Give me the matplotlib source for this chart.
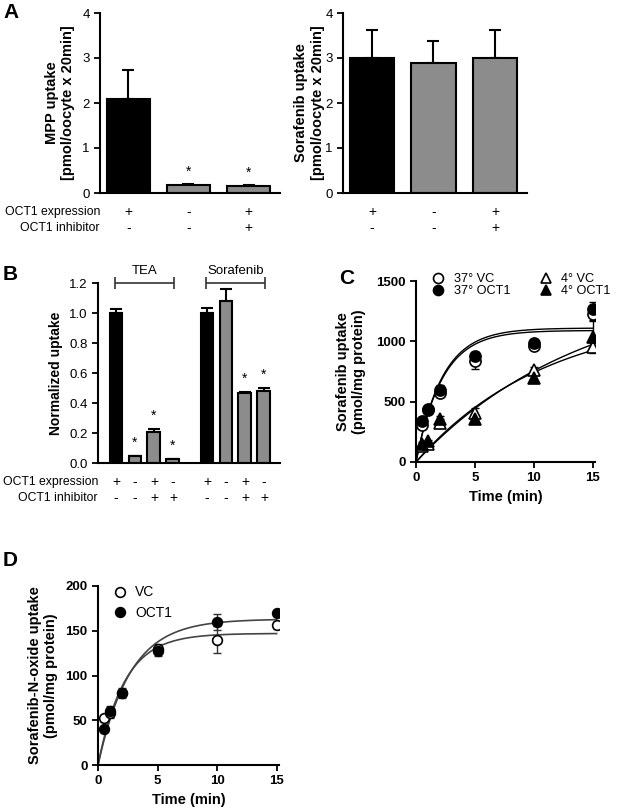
import numpy as np
import matplotlib
matplotlib.use("Agg")
import matplotlib.pyplot as plt

plt.rcParams['font.family'] = ['Liberation Sans', 'DejaVu Sans']
plt.rcParams['axes.linewidth'] = 1.5
plt.rcParams['xtick.major.width'] = 1.3
plt.rcParams['ytick.major.width'] = 1.3
plt.rcParams['xtick.major.size'] = 4
plt.rcParams['ytick.major.size'] = 4

# ---- panel A data ----
a_expr = ['+', '-', '+']
a_inhib = ['-', '-', '+']
a_colors = ['black', '#8c8c8c', '#8c8c8c']
mpp_mean = [2.1, 0.17, 0.15]
mpp_err = [0.63, 0.03, 0.03]
mpp_star = [False, True, True]
sora_mean = [3.0, 2.9, 3.0]
sora_err = [0.63, 0.47, 0.63]

# ---- panel B data ----
b_expr = ['+', '-', '+', '-', '+', '-', '+', '-']
b_inhib = ['-', '-', '+', '+', '-', '-', '+', '+']
b_colors = ['black', '#8c8c8c', '#8c8c8c', '#8c8c8c'] * 2
b_pos = [0, 1, 2, 3, 4.8, 5.8, 6.8, 7.8]
b_mean = [1.0, 0.045, 0.205, 0.025, 1.0, 1.08, 0.465, 0.48]
b_err = [0.03, 0.005, 0.02, 0.005, 0.035, 0.08, 0.01, 0.022]
b_star = [False, True, True, True, False, False, True, True]
b_groups = ['TEA', 'Sorafenib']

# ---- panel C data ----
c_time = [0.5, 1, 2, 5, 10, 15]
c_vc37 = [310, 430, 570, 840, 965, 1230]
c_vc37_err = [20, 20, 30, 70, 30, 60]
c_oct37 = [340, 440, 600, 880, 990, 1270]
c_oct37_err = [20, 20, 40, 30, 30, 60]
c_vc4 = [130, 150, 320, 410, 760, 950]
c_vc4_err = [15, 15, 40, 40, 30, 40]
c_oct4 = [150, 170, 360, 360, 700, 1040]
c_oct4_err = [15, 15, 20, 20, 20, 140]
# one-phase association fits: (plateau, rate)
c_fits = [(1090, 0.45), (1110, 0.45), (1250, 0.09), (1500, 0.07)]

# ---- panel D data ----
d_time = [0.5, 1, 2, 5, 10, 15]
d_vc = [52, 58, 80, 130, 140, 156]
d_vc_err = [4, 6, 5, 5, 15, 4]
d_oct = [40, 60, 81, 127, 160, 170]
d_oct_err = [3, 6, 5, 5, 9, 3]
d_fits = [(147, 0.45), (163, 0.37)]

W, H = 620, 811
fig = plt.figure(figsize=(W / 100, H / 100), dpi=100)


def px_axes(x0, x1, ytop, ybot):
    return fig.add_axes([x0 / W, (H - ybot) / H, (x1 - x0) / W, (ybot - ytop) / H])


def clean(ax):
    for s in ['top', 'right']:
        ax.spines[s].set_visible(False)
    ax.tick_params(direction='out', labelsize=9.5)


def bar_panel(ax, pos, mean, err, colors, stars, width, star_off):
    ax.bar(pos, mean, width=width, color=colors, edgecolor='black', linewidth=1.5, zorder=2)
    ax.errorbar(pos, mean, yerr=[np.zeros(len(err)), err], fmt='none', ecolor='black',
                elinewidth=1.5, capsize=4, capthick=1.5, zorder=1)
    for x, m, e, s in zip(pos, mean, err, stars):
        if s:
            ax.text(x, m + e + star_off, '*', ha='center', va='bottom', fontsize=10)
    ax.set_xticks([])


def sign_rows(ax, pos, expr, inhib, names=True):
    tr = ax.get_xaxis_transform()
    for x, e, i in zip(pos, expr, inhib):
        ax.text(x, -0.105, e, transform=tr, ha='center', va='center', fontsize=10)
        ax.text(x, -0.195, i, transform=tr, ha='center', va='center', fontsize=10)
    if names:
        ax.text(0.0, -0.105, 'OCT1 expression', transform=ax.transAxes, ha='right', va='center', fontsize=8.8)
        ax.text(0.0, -0.195, 'OCT1 inhibitor', transform=ax.transAxes, ha='right', va='center', fontsize=8.8)


# ---- A left ----
ax = px_axes(100, 280, 13, 193)
clean(ax)
bar_panel(ax, [0, 1, 2], mpp_mean, mpp_err, a_colors, mpp_star, 0.72, 0.12)
ax.set_xlim(-0.47, 2.52)
ax.set_ylim(0, 4)
ax.set_yticks([0, 1, 2, 3, 4])
ax.set_ylabel('MPP uptake\n[pmol/oocyte x 20min]', fontsize=10.5, fontweight='bold')
ax.yaxis.set_label_coords(-0.14, 0.5)
sign_rows(ax, [0, 1, 2], a_expr, a_inhib)

# ---- A right ----
ax = px_axes(343, 527, 13, 193)
clean(ax)
bar_panel(ax, [0, 1, 2], sora_mean, sora_err, a_colors, [False] * 3, 0.72, 0.12)
ax.set_xlim(-0.47, 2.52)
ax.set_ylim(0, 4)
ax.set_yticks([0, 1, 2, 3, 4])
ax.set_ylabel('Sorafenib uptake\n[pmol/oocyte x 20min]', fontsize=10.5, fontweight='bold')
ax.yaxis.set_label_coords(-0.1, 0.5)
sign_rows(ax, [0, 1, 2], a_expr, a_inhib, names=False)

# ---- B ----
ax = px_axes(98, 280, 283, 463)
clean(ax)
bar_panel(ax, b_pos, b_mean, b_err, b_colors, b_star, 0.68, 0.04)
ax.set_xlim(-0.95, 8.65)
ax.set_ylim(0, 1.2)
ax.set_yticks(np.arange(0, 1.21, 0.2))
ax.set_yticklabels([f'{v:.1f}' for v in np.arange(0, 1.21, 0.2)])
ax.set_ylabel('Normalized uptake', fontsize=10, fontweight='bold')
ax.yaxis.set_label_coords(-0.19, 0.5)
sign_rows(ax, b_pos, b_expr, b_inhib)
for g, (lo, hi) in zip(b_groups, [(b_pos[0], b_pos[3]), (b_pos[4], b_pos[7])]):
    ax.errorbar([(lo + hi) / 2], [1.2], xerr=[[(hi - lo) / 2 + 0.05]], fmt='none', ecolor='#333333',
                elinewidth=1.2, capsize=4, capthick=1.2, clip_on=False)
    ax.text((lo + hi) / 2, 1.24, g, ha='center', va='bottom', fontsize=9.5)

# ---- C ----
ax = px_axes(416, 595, 281, 462)
clean(ax)
tt = np.linspace(0, 15, 200)
for plateau, k in c_fits:
    ax.plot(tt, plateau * (1 - np.exp(-k * tt)), color='black', lw=1, zorder=1)
series_c = [
    (c_vc37, c_vc37_err, 'o', 'white', '37° VC'),
    (c_oct37, c_oct37_err, 'o', 'black', '37° OCT1'),
    (c_vc4, c_vc4_err, '^', 'white', '4° VC'),
    (c_oct4, c_oct4_err, '^', 'black', '4° OCT1'),
]
handles = []
for y, e, m, fc, lab in series_c:
    ax.errorbar(c_time, y, yerr=e, fmt='none', ecolor='black', elinewidth=1, capsize=3, zorder=2)
    h, = ax.plot(c_time, y, m, mfc=fc, mec='black', mew=1.2, ms=8, ls='none', label=lab, zorder=3)
    handles.append(h)
ax.set_xlim(0, 15.2)
ax.set_ylim(0, 1500)
ax.set_xticks([0, 5, 10, 15])
ax.set_yticks([0, 500, 1000, 1500])
for lab in ax.get_xticklabels() + ax.get_yticklabels():
    lab.set_fontweight('bold')
ax.set_xlabel('Time (min)', fontsize=10.5, fontweight='bold')
ax.set_ylabel('Sorafenib uptake\n(pmol/mg protein)', fontsize=10.5, fontweight='bold')
ax.yaxis.set_label_coords(-0.28, 0.5)
fig.legend(handles=handles, ncol=2, frameon=False, loc='upper left',
           bbox_to_anchor=(419 / W, 1 - 262 / H), fontsize=9.2, handletextpad=0.6,
           columnspacing=2.2, labelspacing=0.0, handlelength=1.2, markerscale=0.9)

# ---- D ----
ax = px_axes(98, 279, 586, 765)
clean(ax)
for plateau, k in d_fits:
    ax.plot(tt, plateau * (1 - np.exp(-k * tt)), color='#444444', lw=1.2, zorder=1)
hd = []
for y, e, fc, lab in [(d_vc, d_vc_err, 'white', 'VC'), (d_oct, d_oct_err, 'black', 'OCT1')]:
    ax.errorbar(d_time, y, yerr=e, fmt='none', ecolor='#333333', elinewidth=1, capsize=3, zorder=2)
    h, = ax.plot(d_time, y, 'o', mfc=fc, mec='black', mew=1.2, ms=7, ls='none', label=lab, zorder=3)
    hd.append(h)
ax.set_xlim(0, 15.2)
ax.set_ylim(0, 200)
ax.set_xticks([0, 5, 10, 15])
ax.set_yticks([0, 50, 100, 150, 200])
for lab in ax.get_xticklabels() + ax.get_yticklabels():
    lab.set_fontweight('bold')
ax.set_xlabel('Time (min)', fontsize=10.5, fontweight='bold')
ax.set_ylabel('Sorafenib-N-oxide uptake\n(pmol/mg protein)', fontsize=10.5, fontweight='bold')
ax.yaxis.set_label_coords(-0.22, 0.5)
ax.legend(handles=hd, frameon=False, loc='upper left', bbox_to_anchor=(0.005, 1.073),
          fontsize=10, handletextpad=0.5, labelspacing=0.45, handlelength=1.2)

# panel letters
for lab, x, y in [('A', 3, 13), ('B', 3, 275), ('C', 339, 278), ('D', 3, 561)]:
    fig.text(x / W, 1 - y / H, lab, fontsize=15, fontweight='bold', va='center', ha='left')

fig.savefig('out.png', dpi=100)
